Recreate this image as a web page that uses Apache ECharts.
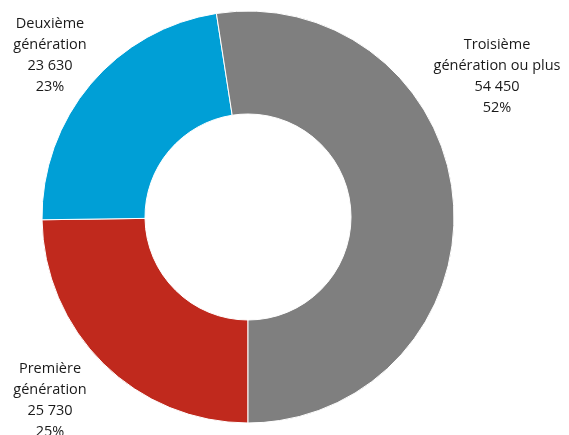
<!DOCTYPE html>
<html><head><meta charset="utf-8">
<script src="https://cdn.jsdelivr.net/npm/echarts@6/dist/echarts.min.js"></script>
<style>html,body{margin:0;padding:0;background:#fff}#c{width:569px;height:435px}</style>
</head><body><div id="c"></div>
<script>
const categories = ['Première\ngénération', 'Deuxième\ngénération', 'Troisième\ngénération ou plus'];
const values = [25730, 23630, 54450];
const percentLabels = ['25%', '23%', '52%'];
const valueLabels = ['25 730', '23 630', '54 450'];
const colors = ['#c0291d', '#009fd6', '#7f7f7f'];
const labelPos = [[50, 400], [50, 55], [497, 76]];

const chart = echarts.init(document.getElementById('c'), null, {renderer: 'canvas'});
chart.setOption({
  animation: false,
  series: [{
    type: 'pie',
    center: [248, 217],
    radius: [103, 206],
    startAngle: -90,
    clockwise: true,
    itemStyle: {borderColor: '#fff', borderWidth: 1},
    label: {
      show: true,
      position: 'outside',
      overflow: 'none',
      bleedMargin: 0,
      formatter: p => categories[p.dataIndex] + '\n' + valueLabels[p.dataIndex] + '\n' + percentLabels[p.dataIndex],
      fontFamily: 'Open Sans',
      fontSize: 14.5,
      lineHeight: 21,
      color: '#1a1a1a',
      align: 'center'
    },
    labelLine: {show: false},
    labelLayout: p => ({x: labelPos[p.dataIndex][0], y: labelPos[p.dataIndex][1], align: 'center', verticalAlign: 'middle', width: 200}),
    emphasis: {disabled: true},
    data: values.map((v, i) => ({name: categories[i], value: v, itemStyle: {color: colors[i]}}))
  }]
});
</script></body></html>
